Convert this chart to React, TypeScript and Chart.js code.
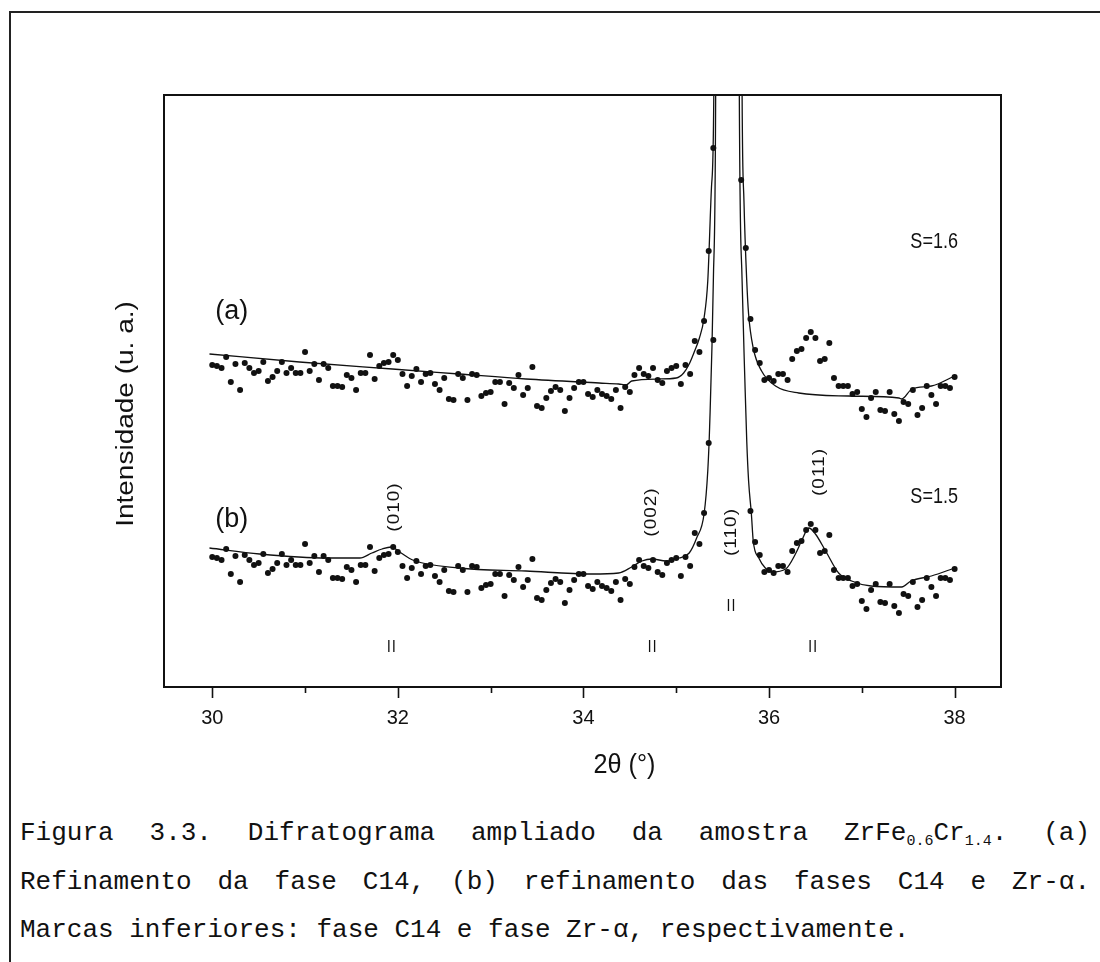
import React, { useEffect, useRef } from "react";
import { Chart, registerables } from "chart.js";

Chart.register(...registerables);

// ---- data (2θ in degrees, intensity in arbitrary units) ----
const THETA_START = 30.0;
const THETA_STEP = 0.05;

// observed pattern, as plotted for curve (a); curve (b) is the same pattern shifted down
const OBSERVED = [
  322, 321, 319, 330, 305, 323, 297, 324, 319, 314,
  316, 325, 306, 310, 316, 325, 314, 319, 314, 314,
  335, 316, 323, 307, 323, 319, 301, 301, 300, 312,
  309, 297, 314, 314, 332, 308, 321, 324, 325, 332,
  327, 313, 301, 311, 318, 305, 313, 314, 303, 297,
  309, 288, 287, 313, 309, 287, 313, 312, 291, 294,
  295, 305, 305, 283, 304, 299, 312, 292, 299, 320,
  281, 279, 289, 296, 300, 297, 276, 289, 299, 305,
  305, 293, 290, 297, 293, 291, 288, 297, 279, 300,
  295, 312, 319, 313, 311, 319, 307, 304, 316, 319,
  321, 303, 322, 313, 346, 335, 366, 436, 539, 1500,
  3400, 4600, 3100, 1500, 699, 631, 368, 337, 324, 307,
  309, 306, 313, 313, 307, 328, 336, 338, 349, 355,
  349, 326, 328, 344, 309, 301, 301, 301, 293, 295,
  278, 270, 289, 295, 277, 276, 295, 273, 266, 285,
  283, 297, 272, 279, 301, 292, 283, 301, 301, 299,
  310,
];
const OFFSET_B = 192;

// refined profile (a): C14 phase only
const FIT_A_THETA = [
  29.97, 30.94, 31.94, 32.66, 33.38, 34.17, 34.38, 34.46, 34.52, 34.81,
  35.0, 35.08, 35.14, 35.19, 35.25, 35.3, 35.34, 35.38, 35.405, 35.55,
  35.71, 35.73, 35.76, 35.78, 35.83, 35.92, 36.07, 36.32, 36.86, 37.4,
  37.43, 37.54, 37.75, 38.0,
];
const FIT_A = [
  333, 325, 318, 313, 308, 304, 303, 302, 306, 308,
  309, 314, 323, 334, 349, 369, 406, 500, 592, 5000,
  592, 486, 406, 373, 339, 316, 301, 294, 291, 289,
  288, 298, 301, 311,
];

// refined profile (b): C14 + Zr-α phases
const FIT_B_THETA = [
  29.97, 30.51, 31.23, 31.59, 31.72, 31.83, 31.93, 32.02, 32.16, 32.66,
  33.38, 34.09, 34.38, 34.52, 34.63, 34.74, 34.89, 35.03, 35.14, 35.22,
  35.3, 35.34, 35.36, 35.4, 35.425, 35.55, 35.68, 35.71, 35.74, 35.76,
  35.78, 35.81, 35.83, 35.89, 35.96, 36.03, 36.18, 36.29, 36.35, 36.43,
  36.5, 36.61, 36.75, 36.89, 37.1, 37.43, 37.53, 37.75, 38.0,
];
const FIT_B = [
  139, 133, 129, 129, 134, 138, 140, 135, 127, 119,
  116, 113, 114, 120, 126, 128, 126, 129, 134, 149,
  173, 216, 260, 406, 592, 5000, 592, 406, 306, 246,
  206, 173, 146, 129, 119, 115, 118, 134, 146, 159,
  153, 136, 114, 106, 101, 100, 106, 111, 119,
];

// Bragg reflection markers (lower marks)
const C14_REFLECTIONS = [31.93, 34.74, 36.47];
const ZR_REFLECTIONS = [35.59];
const C14_ROW = 41;
const ZR_ROW = 82;

const X_MAJOR = [30, 32, 34, 36, 38];
const X_MINOR = [31, 33, 35, 37];
const X_MIN = 29.48;
const X_MAX = 38.5;
const Y_MIN = 0;
const Y_MAX = 592;

const PANEL_LABELS = [
  { text: "(a)", x: 30.21, y: 375 },
  { text: "(b)", x: 30.21, y: 167 },
];
const FIT_LABELS = [
  { text: "S=1.6", x: 37.78, y: 445 },
  { text: "S=1.5", x: 37.78, y: 190 },
];
const HKL_LABELS = [
  { text: "(010)", x: 31.96, y: 180 },
  { text: "(002)", x: 34.73, y: 175 },
  { text: "(110)", x: 35.59, y: 155 },
  { text: "(011)", x: 36.54, y: 215 },
];
const X_TITLE = "2θ (°)";
const Y_TITLE = "Intensidade (u. a.)";

// ---- styling ----
const INK = "#111";
const SANS = '"Liberation Sans", Arial, sans-serif';
const MARK_GAP = 0.027;

function drawText(
  ctx: CanvasRenderingContext2D,
  text: string,
  px: number,
  py: number,
  size: number,
  sx = 1,
  sy = 1,
  rot = 0,
  spacing = 0
) {
  ctx.save();
  ctx.translate(px, py);
  if (rot) ctx.rotate(rot);
  ctx.scale(sx, sy);
  ctx.font = `${size}px ${SANS}`;
  (ctx as any).letterSpacing = `${spacing}px`;
  ctx.fillStyle = INK;
  ctx.textAlign = "center";
  ctx.textBaseline = "middle";
  ctx.fillText(text, 0, 0);
  ctx.restore();
}

const overlay = {
  id: "overlay",
  afterDraw(chart: any) {
    const { ctx, chartArea: a, scales } = chart;
    const xs = scales.x;
    const ys = scales.y;
    ctx.save();
    // frame
    ctx.strokeStyle = INK;
    ctx.lineWidth = 2;
    ctx.strokeRect(a.left, a.top, a.right - a.left, a.bottom - a.top);
    // x tick marks (outward)
    ctx.lineWidth = 1.6;
    const tick = (v: number, len: number) => {
      const px = Math.round(xs.getPixelForValue(v)) + 0.5;
      ctx.beginPath();
      ctx.moveTo(px, a.bottom);
      ctx.lineTo(px, a.bottom + len);
      ctx.stroke();
    };
    X_MAJOR.forEach((v) => tick(v, 11));
    X_MINOR.forEach((v) => tick(v, 6));
    ctx.restore();

    PANEL_LABELS.forEach((l) =>
      drawText(ctx, l.text, xs.getPixelForValue(l.x), ys.getPixelForValue(l.y), 27)
    );
    FIT_LABELS.forEach((l) =>
      drawText(ctx, l.text, xs.getPixelForValue(l.x), ys.getPixelForValue(l.y), 22, 0.82, 1)
    );
    HKL_LABELS.forEach((l) =>
      drawText(ctx, l.text, xs.getPixelForValue(l.x), ys.getPixelForValue(l.y), 19, 1, 0.9, -Math.PI / 2, 1)
    );
    // axis titles
    drawText(ctx, X_TITLE, (a.left + a.right) / 2 + 42, a.bottom + 78, 28, 0.9, 1);
    drawText(ctx, Y_TITLE, a.left - 38, (a.top + a.bottom) / 2 + 23, 28, 1, 0.85, -Math.PI / 2);
  },
};

export default function App() {
  const ref = useRef<HTMLCanvasElement>(null);

  useEffect(() => {
    const canvas = ref.current;
    if (!canvas) return;
    const thetas = OBSERVED.map((_, i) => THETA_START + i * THETA_STEP);
    const markPairs = (list: number[], row: number) =>
      list.flatMap((t) => [
        { x: t - MARK_GAP, y: row },
        { x: t + MARK_GAP, y: row },
      ]);
    const markStyle = {
      showLine: false,
      pointStyle: "line",
      rotation: 90,
      pointRadius: 6,
      pointBorderColor: INK,
      pointBorderWidth: 1.3,
      clip: 0,
    };
    const fitStyle = {
      showLine: true,
      borderColor: INK,
      borderWidth: 1.3,
      pointRadius: 0,
      cubicInterpolationMode: "monotone",
      clip: 0,
    };
    const dotStyle = {
      showLine: false,
      pointRadius: 3,
      pointBackgroundColor: INK,
      pointBorderWidth: 0,
      clip: 0,
    };
    const chart = new Chart(canvas, {
      type: "scatter",
      data: {
        datasets: [
          { label: "fit (a)", data: FIT_A_THETA.map((x, i) => ({ x, y: FIT_A[i] })), ...fitStyle } as any,
          { label: "fit (b)", data: FIT_B_THETA.map((x, i) => ({ x, y: FIT_B[i] })), ...fitStyle } as any,
          { label: "obs (a)", data: OBSERVED.map((v, i) => ({ x: thetas[i], y: v })), ...dotStyle } as any,
          {
            label: "obs (b)",
            data: OBSERVED.map((v, i) => ({ x: thetas[i], y: v - OFFSET_B })),
            ...dotStyle,
          } as any,
          { label: "C14", data: markPairs(C14_REFLECTIONS, C14_ROW), ...markStyle } as any,
          { label: "Zr-α", data: markPairs(ZR_REFLECTIONS, ZR_ROW), ...markStyle } as any,
        ],
      },
      options: {
        animation: false,
        responsive: false,
        maintainAspectRatio: false,
        events: [],
        layout: { padding: { left: 164, right: 99, top: 95, bottom: 0 } },
        plugins: { legend: { display: false }, tooltip: { enabled: false } },
        scales: {
          x: {
            type: "linear",
            min: X_MIN,
            max: X_MAX,
            grid: { display: false, drawTicks: false },
            border: { display: false },
            afterBuildTicks: (axis: any) => {
              axis.ticks = X_MAJOR.map((v) => ({ value: v }));
            },
            afterFit: (axis: any) => {
              axis.height = 113;
            },
            ticks: {
              color: INK,
              font: { family: SANS, size: 20 },
              padding: 19,
              maxRotation: 0,
              autoSkip: false,
              callback: (v: any) => String(v),
            },
          },
          y: { type: "linear", display: false, min: Y_MIN, max: Y_MAX },
        },
      },
      plugins: [overlay as any],
    } as any);
    return () => chart.destroy();
  }, []);

  const lineBase: React.CSSProperties = {
    position: "absolute",
    left: 20,
    width: 1070,
    height: 48,
    lineHeight: "48px",
    fontFamily: '"Liberation Mono", "DejaVu Sans Mono", monospace',
    fontSize: 26,
    color: INK,
  };
  const justified: React.CSSProperties = {
    ...lineBase,
    textAlign: "justify",
    textAlignLast: "justify" as any,
  };
  const sub: React.CSSProperties = {
    fontSize: 15,
    verticalAlign: "baseline",
    position: "relative",
    top: 5,
  };

  return (
    <div
      style={{
        position: "absolute",
        left: 0,
        top: 0,
        width: 1100,
        height: 962,
        background: "#fff",
        overflow: "hidden",
      }}
    >
      <div style={{ position: "absolute", left: 9, top: 11, width: 1091, height: 2, background: "#222" }} />
      <div style={{ position: "absolute", left: 9, top: 11, width: 2, height: 951, background: "#222" }} />
      <canvas
        ref={ref}
        width={1100}
        height={800}
        style={{ position: "absolute", left: 0, top: 0, width: 1100, height: 800 }}
      />
      <div style={{ ...justified, top: 809 }}>
        Figura 3.3. Difratograma ampliado da amostra ZrFe<span style={sub}>0.6</span>Cr
        <span style={sub}>1.4</span>. (a)
      </div>
      <div style={{ ...justified, top: 858 }}>
        Refinamento da fase C14, (b) refinamento das fases C14 e Zr-α.
      </div>
      <div style={{ ...lineBase, top: 906 }}>
        Marcas inferiores: fase C14 e fase Zr-α, respectivamente.
      </div>
    </div>
  );
}
